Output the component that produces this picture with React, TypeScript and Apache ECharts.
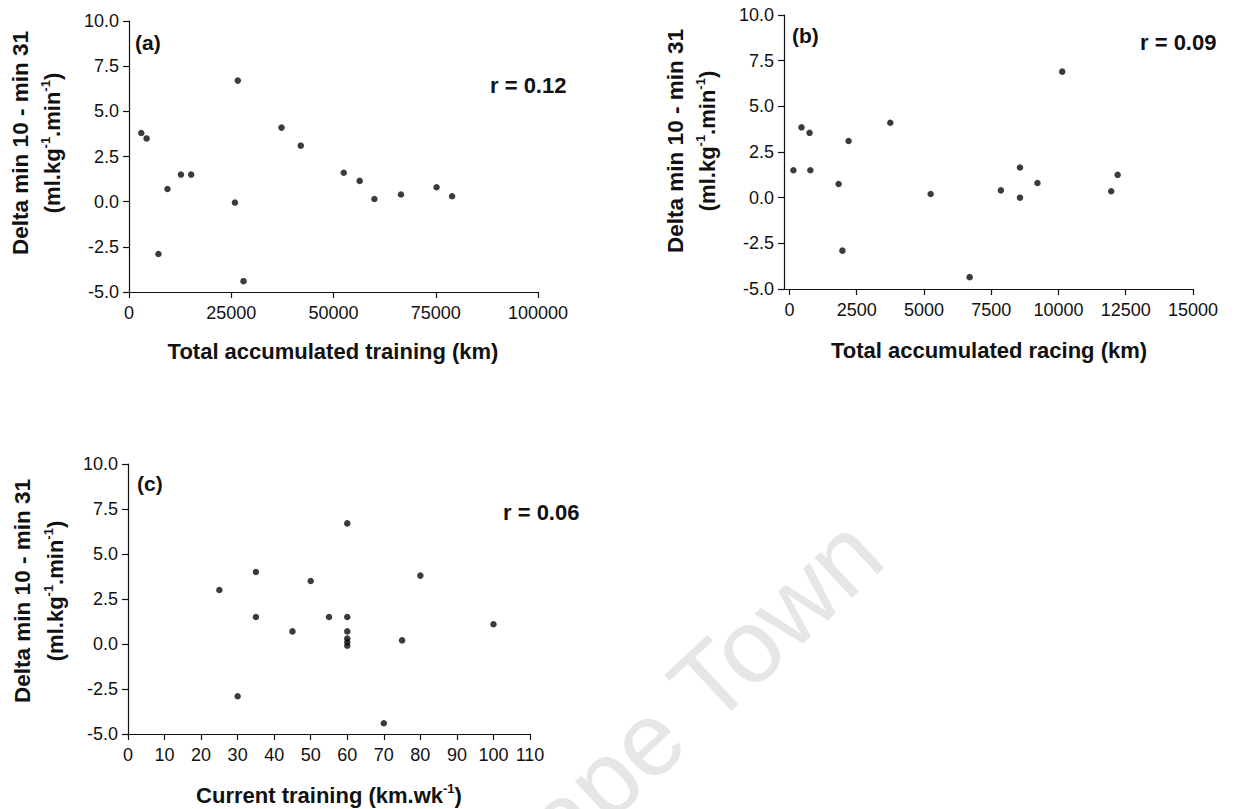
import React, { useEffect, useRef } from "react";
import * as echarts from "echarts";

// Panel (a): total accumulated training distance vs delta VO2
const trainingKm = [3000, 4300, 7200, 9400, 12700, 15200, 25900, 26600, 28000, 37300, 42000, 52500, 56400, 60000, 66500, 75200, 79000];
const trainingDelta = [3.8, 3.5, -2.9, 0.7, 1.5, 1.5, -0.05, 6.7, -4.4, 4.1, 3.1, 1.6, 1.15, 0.15, 0.4, 0.8, 0.3];

// Panel (b): total accumulated racing distance vs delta VO2
const racingKm = [150, 450, 750, 780, 1830, 1970, 2200, 3750, 5250, 6700, 7860, 8570, 8570, 9220, 10140, 11960, 12200];
const racingDelta = [1.5, 3.85, 3.55, 1.5, 0.75, -2.9, 3.1, 4.1, 0.2, -4.35, 0.4, 1.65, 0.0, 0.8, 6.9, 0.35, 1.25];

// Panel (c): current weekly training vs delta VO2
const currentKmWk = [25, 30, 35, 35, 45, 50, 55, 60, 60, 60, 60, 60, 60, 70, 75, 80, 100];
const currentDelta = [3.0, -2.9, 4.0, 1.5, 0.7, 3.5, 1.5, 6.7, 1.5, 0.7, 0.3, 0.1, -0.1, -4.4, 0.2, 3.8, 1.1];

const panelLetters = ["(a)", "(b)", "(c)"];
const rValues = ["r = 0.12", "r = 0.09", "r = 0.06"];
const xTitles = ["Total accumulated training (km)", "Total accumulated racing (km)", "Current training (km.wk"];
const yTitleLine1 = "Delta min 10 - min 31";
const racingTicks = [0, 2500, 5000, 7500, 10000, 12500, 15000];

const FONT = "'Liberation Sans', Arial, Helvetica, sans-serif";
const INK = "#111";

const pair = (xs: number[], ys: number[]) => xs.map((x, i) => [x, ys[i]]);

function yAxisFor(gridIndex: number) {
  return {
    type: "value",
    gridIndex,
    min: -5,
    max: 10,
    interval: 2.5,
    splitLine: { show: false },
    axisLine: { show: true, onZero: false, lineStyle: { color: INK, width: 1.2 } },
    axisTick: { show: true, length: 6, lineStyle: { color: INK, width: 1.2 } },
    axisLabel: {
      margin: 10,
      color: INK,
      fontSize: 18,
      fontFamily: FONT,
      formatter: (v: number) => v.toFixed(1),
    },
  };
}

const xBase = {
  type: "value",
  splitLine: { show: false },
  axisLine: { show: true, onZero: false, lineStyle: { color: INK, width: 1.2 } },
  axisTick: { show: true, length: 6, lineStyle: { color: INK, width: 1.2 } },
};

const xLabel = {
  margin: 12,
  color: INK,
  fontSize: 18,
  fontFamily: FONT,
  showMinLabel: true,
  showMaxLabel: true,
  formatter: (v: number) => String(v),
};

const superRich = {
  n: { fontSize: 22, fontWeight: "bold", fontFamily: FONT, fill: INK, lineHeight: 27 },
  s: { fontSize: 13, fontWeight: "bold", fontFamily: FONT, fill: INK, verticalAlign: "top", lineHeight: 27 },
};

function rotatedTitle(cx1: number, cx2: number, cy: number) {
  return [
    {
      type: "text",
      x: cx1,
      y: cy,
      rotation: Math.PI / 2,
      style: {
        text: yTitleLine1,
        fill: INK,
        font: `bold 22.5px ${FONT}`,
        align: "center",
        verticalAlign: "middle",
      },
    },
    {
      type: "text",
      x: cx2,
      y: cy,
      rotation: Math.PI / 2,
      style: {
        text: "{n|(ml.kg}{s|-1}{n|.min}{s|-1}{n|)}",
        fill: INK,
        align: "center",
        verticalAlign: "middle",
        rich: superRich,
      },
    },
  ];
}

function plainText(text: string, x: number, y: number, size: number, align = "left") {
  return {
    type: "text",
    x,
    y,
    style: { text, fill: INK, font: `bold ${size}px ${FONT}`, align, verticalAlign: "middle" },
  };
}

export default function App() {
  const ref = useRef<HTMLDivElement>(null);

  useEffect(() => {
    if (!ref.current) return;
    const chart = echarts.init(ref.current, undefined, { renderer: "svg" });

    const scatter = (xi: number, data: number[][]) => ({
      type: "scatter",
      xAxisIndex: xi,
      yAxisIndex: xi,
      data,
      symbol: "circle",
      symbolSize: 6.5,
      itemStyle: { color: "#0a0a0a" },
      silent: true,
    });

    chart.setOption({
      animation: false,
      backgroundColor: "#ffffff",
      grid: [
        { left: 129, top: 21, width: 409, height: 271 },
        { left: 784, top: 15, width: 409, height: 274 },
        { left: 128, top: 464, width: 402, height: 270 },
      ],
      xAxis: [
        { ...xBase, gridIndex: 0, min: 0, max: 100000, interval: 25000, axisLabel: xLabel },
        {
          ...xBase,
          gridIndex: 1,
          min: -200,
          max: 15000,
          axisTick: { ...xBase.axisTick, customValues: racingTicks },
          axisLabel: { ...xLabel, customValues: racingTicks },
        },
        { ...xBase, gridIndex: 2, min: 0, max: 110, interval: 10, axisLabel: xLabel },
      ],
      yAxis: [yAxisFor(0), yAxisFor(1), yAxisFor(2)],
      series: [
        scatter(0, pair(trainingKm, trainingDelta)),
        scatter(1, pair(racingKm, racingDelta)),
        scatter(2, pair(currentKmWk, currentDelta)),
      ],
      graphic: [
        // faint background watermark running off the bottom edge
        {
          type: "text",
          x: 900,
          y: 575,
          rotation: (43 * Math.PI) / 180,
          z: -10,
          silent: true,
          style: {
            text: "Cape Town",
            fill: "#e6e6e6",
            font: `104px ${FONT}`,
            align: "right",
            verticalAlign: "bottom",
          },
        },
        plainText(panelLetters[0], 135, 42, 21),
        plainText(panelLetters[1], 792, 35, 21),
        plainText(panelLetters[2], 137, 483, 21),
        plainText(rValues[0], 490, 85, 22),
        plainText(rValues[1], 1140, 42, 22),
        plainText(rValues[2], 503, 512, 22),
        plainText(xTitles[0], 333, 351, 22, "center"),
        plainText(xTitles[1], 989, 350, 22, "center"),
        {
          type: "text",
          x: 329,
          y: 795,
          style: {
            text: `{n|${xTitles[2]}}{s|-1}{n|)}`,
            fill: INK,
            align: "center",
            verticalAlign: "middle",
            rich: superRich,
          },
        },
        ...rotatedTitle(20, 52, 143),
        ...rotatedTitle(675, 707, 141),
        ...rotatedTitle(22, 55, 591),
      ],
    });

    return () => chart.dispose();
  }, []);

  return (
    <div
      ref={ref}
      style={{ position: "fixed", left: 0, top: 0, width: 1238, height: 809, background: "#fff" }}
    />
  );
}
